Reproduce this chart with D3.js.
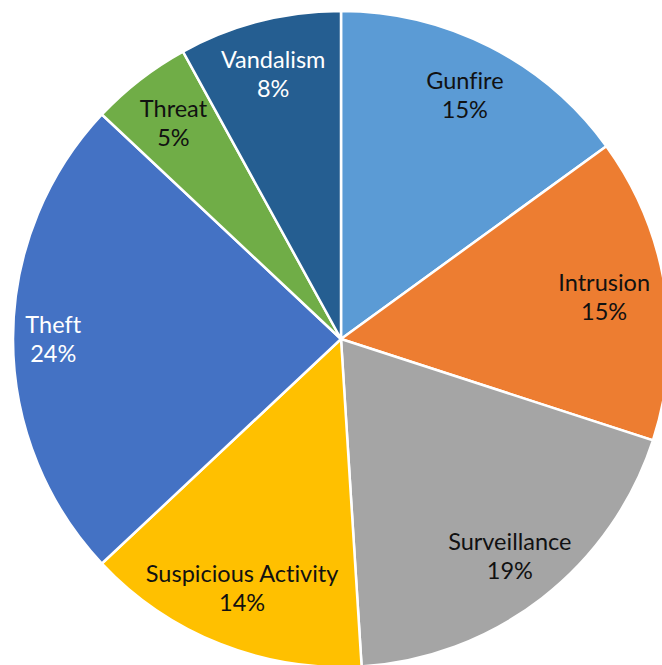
<!DOCTYPE html>
<html>
<head>
<meta charset="utf-8">
<script src="https://cdn.jsdelivr.net/npm/d3@7"></script>
<style>
  html, body { margin: 0; padding: 0; background: #fff; }
  svg { display: block; }
  text { font-variant-ligatures: none; font-feature-settings: "liga" 0; }
</style>
</head>
<body>
<svg id="chart" width="662" height="665"></svg>
<script>
// Incident types and their share of all reports (percent)
const categories = ["Gunfire", "Intrusion", "Surveillance", "Suspicious Activity", "Theft", "Threat", "Vandalism"];
const shares = [15, 15, 19, 14, 24, 5, 8];

// Office-style palette, one per slice, and matching label ink
const palette = ["#5B9BD5", "#ED7D31", "#A5A5A5", "#FFC000", "#4472C4", "#70AD47", "#255E91"];
const labelInk = ["#111", "#111", "#111", "#111", "#fff", "#111", "#fff"];

const width = 662, height = 665;
const cx = 341, cy = 339, R = 328;
const fontSize = 23.5, lineGap = 29, edgePad = 11;

const svg = d3.select("#chart");
const g = svg.append("g").attr("transform", `translate(${cx},${cy})`);

const slices = categories.map((name, i) => ({ name, value: shares[i], i }));

const pie = d3.pie().sort(null).value(d => d.value)
  .startAngle(0).endAngle(2 * Math.PI);
const arc = d3.arc().innerRadius(0).outerRadius(R);
const total = d3.sum(shares);

const arcs = pie(slices);

g.selectAll("path.slice")
  .data(arcs)
  .join("path")
  .attr("class", "slice")
  .attr("d", arc)
  .attr("fill", d => palette[d.data.i])
  .attr("stroke", "#fff")
  .attr("stroke-width", 2.5)
  .attr("stroke-linejoin", "miter");

// Labels: two lines (name, percent) pushed outward along the slice
// bisector as far as they can go while staying inside the rim.
const labels = g.selectAll("g.label")
  .data(arcs)
  .join("g")
  .attr("class", "label");

labels.each(function(d) {
  const grp = d3.select(this);
  const pct = Math.round(d.data.value / total * 100) + "%";
  const lines = [d.data.name, pct];
  const texts = lines.map(t => grp.append("text")
    .attr("text-anchor", "middle")
    .attr("font-family", "Lato, 'Open Sans', sans-serif")
    .attr("font-size", fontSize)
    .attr("fill", labelInk[d.data.i])
    .text(t));
  const widths = texts.map(t => t.node().getComputedTextLength());

  const mid = (d.startAngle + d.endAngle) / 2;
  const ux = Math.sin(mid), uy = -Math.cos(mid);
  const limit = R - edgePad;

  const fits = dist => {
    const x0 = ux * dist, y0 = uy * dist;
    const boxes = [
      { w: widths[0], top: -lineGap, bot: 0 },
      { w: widths[1], top: 0, bot: lineGap }
    ];
    for (const b of boxes) {
      for (const sx of [-1, 1]) for (const yy of [b.top, b.bot]) {
        const px = x0 + sx * b.w / 2, py = y0 + yy;
        if (Math.hypot(px, py) > limit) return false;
      }
    }
    return true;
  };
  let lo = 0, hi = R;
  for (let k = 0; k < 40; k++) {
    const m = (lo + hi) / 2;
    if (fits(m)) lo = m; else hi = m;
  }
  const lx = ux * lo, ly = uy * lo;
  texts[0].attr("x", lx).attr("y", ly - 6.5);
  texts[1].attr("x", lx).attr("y", ly - 6.5 + lineGap);
});
</script>
</body>
</html>
